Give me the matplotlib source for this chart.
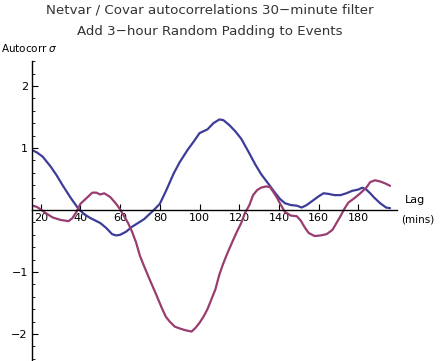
import numpy as np
import matplotlib
matplotlib.use("Agg")
import matplotlib.pyplot as plt
from matplotlib.ticker import MultipleLocator, FixedLocator

# Netvar autocorrelation (blue)
lag_net = [16, 18, 21, 25, 28, 31, 35, 39, 42, 45, 50, 53, 56, 58, 60, 63, 66, 69,
           72, 75, 77, 80, 83, 87, 90, 94, 97, 100, 102, 104, 107, 110, 112, 115,
           118, 121, 125, 128, 131, 135, 138, 140.5, 143, 146, 149, 151.5, 154, 157,
           160, 162.5, 165, 168, 171, 174, 177, 180, 182, 184, 186, 188, 191, 194, 196]
ac_net = [0.96, 0.93, 0.86, 0.70, 0.56, 0.40, 0.20, 0.02, -0.07, -0.13, -0.21, -0.29,
          -0.39, -0.41, -0.40, -0.35, -0.27, -0.21, -0.15, -0.06, 0.00, 0.10, 0.30,
          0.59, 0.77, 0.97, 1.10, 1.24, 1.27, 1.30, 1.40, 1.46, 1.45, 1.37, 1.27,
          1.15, 0.92, 0.74, 0.58, 0.41, 0.28, 0.18, 0.11, 0.08, 0.07, 0.04, 0.08,
          0.15, 0.22, 0.27, 0.26, 0.24, 0.24, 0.27, 0.31, 0.33, 0.36, 0.33, 0.27,
          0.20, 0.11, 0.04, 0.03]

# Covar autocorrelation (magenta)
lag_cov = [16, 18, 20, 23, 26, 30, 34, 36, 38, 40, 43, 46, 48, 50, 52, 55, 58, 60, 62,
           64, 66, 68, 70, 72, 75, 78, 81, 83, 85, 87.5, 90, 93, 96, 98, 100, 102, 104,
           106, 108, 110, 112, 114, 117, 119, 121, 123, 125, 127, 129, 131, 133.5,
           135.5, 137, 139, 141, 143, 146, 149, 151, 153, 155, 158, 161, 164, 167,
           169, 171, 173, 175, 178, 181, 184, 186, 188.5, 191, 193.5, 196]
ac_cov = [0.07, 0.05, 0.01, -0.06, -0.12, -0.16, -0.18, -0.13, -0.03, 0.10, 0.19,
          0.28, 0.28, 0.25, 0.27, 0.21, 0.10, 0.01, -0.10, -0.21, -0.35, -0.52, -0.74,
          -0.90, -1.13, -1.35, -1.58, -1.72, -1.80, -1.88, -1.91, -1.94, -1.96, -1.90,
          -1.82, -1.72, -1.60, -1.44, -1.28, -1.04, -0.86, -0.70, -0.48, -0.34, -0.21,
          -0.04, 0.07, 0.24, 0.32, 0.36, 0.38, 0.37, 0.30, 0.20, 0.08, -0.03, -0.09,
          -0.10, -0.17, -0.28, -0.37, -0.42, -0.41, -0.39, -0.32, -0.21, -0.10, 0.02,
          0.12, 0.19, 0.27, 0.36, 0.45, 0.48, 0.46, 0.43, 0.39]

x_ticks = [20, 40, 60, 80, 100, 120, 140, 160, 180]
y_ticks = [-2, -1, 1, 2]

BLUE = "#3d3d99"
MAGENTA = "#993d71"

fig = plt.figure(figsize=(4.40, 3.61), dpi=100)
ax = fig.add_axes([32 / 440, 0.0, (397 - 32) / 440, 1 - 61 / 361])

ax.plot(lag_net, ac_net, color=BLUE, lw=1.6, solid_capstyle="round")
ax.plot(lag_cov, ac_cov, color=MAGENTA, lw=1.6, solid_capstyle="round")

ax.set_xlim(15.6, 199.5)
ax.set_ylim(-2.435, 2.403)

for s in ("top", "right"):
    ax.spines[s].set_visible(False)
ax.spines["bottom"].set_position(("data", 0))
ax.spines["left"].set_linewidth(1.0)
ax.spines["bottom"].set_linewidth(1.0)

ax.xaxis.set_major_locator(FixedLocator(x_ticks))
ax.yaxis.set_major_locator(FixedLocator(y_ticks))
ax.yaxis.set_minor_locator(MultipleLocator(0.2))
ax.tick_params(axis="x", direction="in", length=4, width=0.8, pad=2, labelsize=8)
ax.tick_params(axis="y", which="major", direction="in", length=4.5, width=0.8,
               pad=3, labelsize=8)
ax.tick_params(axis="y", which="minor", direction="in", length=2.5, width=0.6)
ax.set_yticklabels(["\u22122", "\u22121", "1", "2"])

fig.text(210 / 440, 1 - 10 / 361, "Netvar / Covar autocorrelations 30\u2212minute filter",
         ha="center", va="center", fontsize=9.6, color="#333333")
fig.text(210 / 440, 1 - 31 / 361, "Add 3\u2212hour Random Padding to Events",
         ha="center", va="center", fontsize=9.6, color="#333333")
fig.text(1 / 440, 1 - 48 / 361, r"Autocorr $\sigma$", ha="left", va="center",
         fontsize=7.5)
fig.text(415 / 440, 1 - 200 / 361, "Lag", ha="center", va="center", fontsize=8)
fig.text(418 / 440, 1 - 219 / 361, "(mins)", ha="center", va="center", fontsize=7.5)

fig.savefig("out.png", dpi=100)
